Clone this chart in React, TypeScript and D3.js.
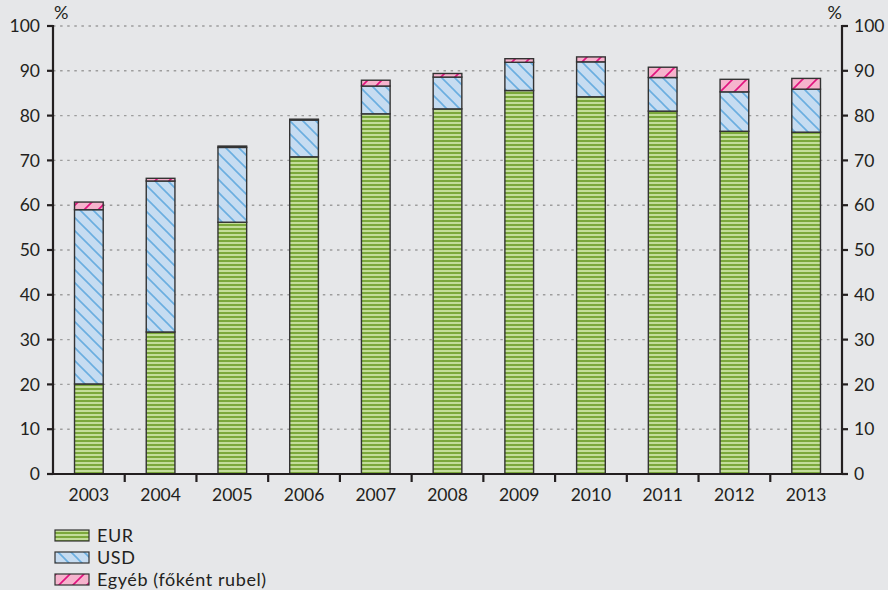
import React from "react";
import * as d3 from "d3";

const years = ["2003","2004","2005","2006","2007","2008","2009","2010","2011","2012","2013"];
const eur = [20.1, 31.7, 56.2, 70.8, 80.4, 81.5, 85.6, 84.2, 81.0, 76.5, 76.3];
const usd = [38.9, 33.7, 16.7, 8.2, 6.2, 7.1, 6.3, 7.8, 7.5, 8.8, 9.6];
const other = [1.7, 0.6, 0.3, 0.2, 1.3, 0.8, 0.8, 1.1, 2.3, 2.8, 2.4];
const yTicks = [0, 10, 20, 30, 40, 50, 60, 70, 80, 90, 100];
const seriesNames = ["EUR", "USD", "Egyéb (főként rubel)"];

const W = 888, H = 590;
const L = 53, R = 842, T = 26, B = 474;
const FONT = "Lato, 'Open Sans', sans-serif";
const INK = "#231f20";

export default function App() {
  const x = d3.scaleBand<string>().domain(years).range([L, R]).paddingInner(0.6).paddingOuter(0.3);
  const xb = d3.scaleBand<string>().domain(years).range([L, R]);
  const y = d3.scaleLinear().domain([0, 100]).range([B, T]);
  const rows = years.map((yr, i) => ({ year: yr, eur: eur[i], usd: usd[i], other: other[i] }));
  const keys = ["eur", "usd", "other"];
  const stack = d3.stack<any>().keys(keys)(rows);
  const fills = ["url(#pEur)", "url(#pUsd)", "url(#pOth)"];

  return (
    <svg width={W} height={H} style={{ position: "absolute", left: 0, top: 0 }} fontFamily={FONT}>
      <defs>
        <pattern id="pEur" patternUnits="userSpaceOnUse" width={8} height={4}>
          <rect width={8} height={4} fill="#c3dd9a" />
          <rect width={8} height={2} fill="#7ba83b" />
        </pattern>
        <pattern id="pUsd" patternUnits="userSpaceOnUse" width={13} height={13}>
          <rect width={13} height={13} fill="#c6dcf1" />
          <path d="M-3,-3 L16,16 M-3,10 L3,16 M10,-3 L16,3" stroke="#6aaee0" strokeWidth={1.6} />
        </pattern>
        <pattern id="pOth" patternUnits="userSpaceOnUse" width={14} height={14}>
          <rect width={14} height={14} fill="#f6b3cd" />
          <path d="M-3,17 L17,-3 M-3,3 L3,-3 M11,17 L17,11" stroke="#e2137f" strokeWidth={1.6} />
        </pattern>
      </defs>
      <rect width={W} height={H} fill="#e6e7e9" />
      {yTicks.filter(t => t > 0).map(t => (
        <line key={t} x1={L} x2={R} y1={y(t)} y2={y(t)} stroke="#9d9d9d" strokeWidth={1.4} strokeDasharray="2.5,4.6" />
      ))}
      {stack.map((s, si) => s.map((d, i) => {
        const h = y(d[0]) - y(d[1]);
        if (h <= 0) return null;
        return (
          <rect key={si + "-" + i} x={x(years[i])} width={x.bandwidth()} y={y(d[1])} height={h}
            fill={fills[si]} stroke="#333" strokeWidth={1.4} />
        );
      }))}
      <line x1={L} x2={L} y1={T - 1} y2={B + 1} stroke={INK} strokeWidth={2.2} />
      <line x1={R} x2={R} y1={T - 1} y2={B + 1} stroke={INK} strokeWidth={2.2} />
      <line x1={L} x2={R} y1={B} y2={B} stroke={INK} strokeWidth={2.2} />
      {yTicks.map(t => (
        <g key={t}>
          <line x1={L - 6} x2={L} y1={y(t)} y2={y(t)} stroke={INK} strokeWidth={2.2} />
          <line x1={R} x2={R + 6} y1={y(t)} y2={y(t)} stroke={INK} strokeWidth={2.2} />
          <text x={L - 13} y={y(t)} dy="0.35em" textAnchor="end" fontSize={17.5} fill={INK}>{t}</text>
          <text x={R + 12} y={y(t)} dy="0.35em" textAnchor="start" fontSize={17.5} fill={INK}>{t}</text>
        </g>
      ))}
      <text x={L + 1} y={19} fontSize={18} fill={INK}>%</text>
      <text x={R} y={19} fontSize={18} fill={INK} textAnchor="end">%</text>
      {years.slice(1).map(yr => (
        <line key={yr} x1={xb(yr)} x2={xb(yr)} y1={B} y2={B + 8} stroke={INK} strokeWidth={2.2} />
      ))}
      {years.map(yr => (
        <text key={yr} x={(xb(yr) as number) + xb.bandwidth() / 2} y={501} textAnchor="middle" fontSize={17.5} fill={INK}>{yr}</text>
      ))}
      {seriesNames.map((n, i) => (
        <g key={n}>
          <rect x={55} y={530 + i * 22} width={34} height={11} fill={fills[i]} stroke="#333" strokeWidth={1.2} />
          <text x={97} y={541.5 + i * 22} fontSize={18} letterSpacing={0.6} fill={INK}>{n}</text>
        </g>
      ))}
    </svg>
  );
}
